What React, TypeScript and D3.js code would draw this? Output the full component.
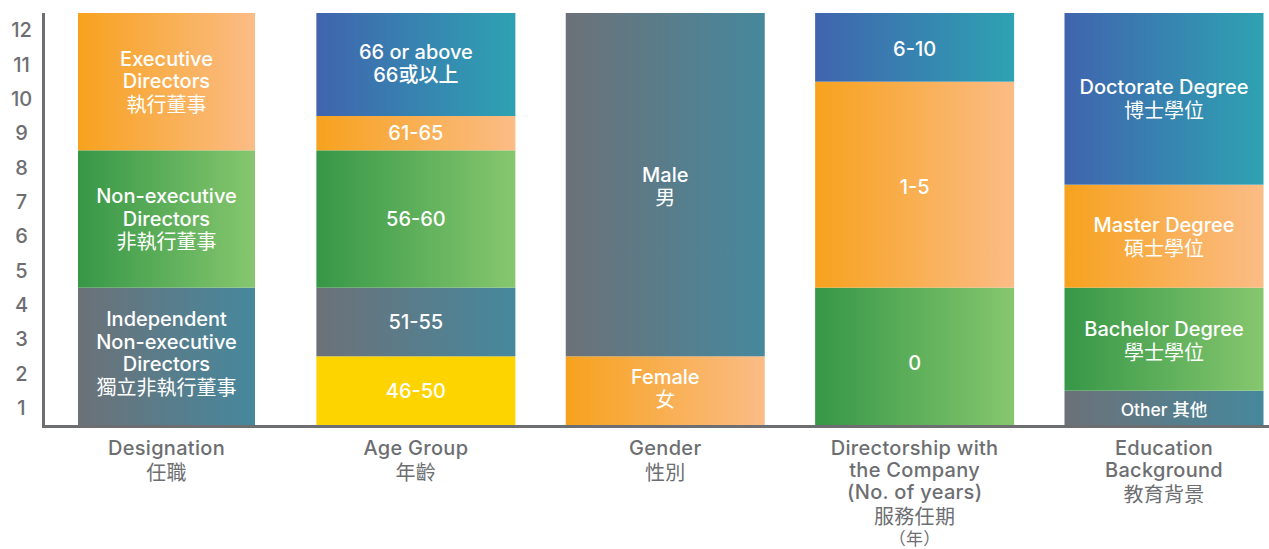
import React from "react";
import * as d3 from "d3";

const categories = ["Designation", "Age Group", "Gender", "Directorship", "Education"];
const categoryLabels: string[][] = [
  ["Designation", "任職"],
  ["Age Group", "年齡"],
  ["Gender", "性別"],
  ["Directorship with", "the Company", "(No. of years)", "服務任期", "（年）"],
  ["Education", "Background", "教育背景"],
];

const designationLabels = [
  ["Independent", "Non-executive", "Directors", "獨立非執行董事"],
  ["Non-executive", "Directors", "非執行董事"],
  ["Executive", "Directors", "執行董事"],
];
const designationValues = [4, 4, 4];

const ageLabels = [["46-50"], ["51-55"], ["56-60"], ["61-65"], ["66 or above", "66或以上"]];
const ageValues = [2, 2, 4, 1, 3];

const genderLabels = [["Female", "女"], ["Male", "男"]];
const genderValues = [2, 10];

const directorshipLabels = [["0"], ["1-5"], ["6-10"]];
const directorshipValues = [4, 6, 2];

const educationLabels = [["Other  其他"], ["Bachelor Degree", "學士學位"], ["Master Degree", "碩士學位"], ["Doctorate Degree", "博士學位"]];
const educationValues = [1, 3, 3, 5];

const yTicks = [1, 2, 3, 4, 5, 6, 7, 8, 9, 10, 11, 12];

// colour keys per segment (styles kept apart from data)
const segmentColors: string[][] = [
  ["grey", "green", "orange"],
  ["yellow", "grey", "green", "orange", "blue"],
  ["orange", "grey"],
  ["green", "orange", "blue"],
  ["grey", "green", "orange", "blue"],
];
const labelShift: number[][] = [
  [-3, 0, 0],
  [0, 0, 0, 0, -1],
  [-2, 2],
  [7, 2, 2],
  [1, 2, 1, 0],
];

const gradients: Record<string, [string, string]> = {
  orange: ["#F7A21E", "#FBBC86"],
  green: ["#369747", "#86C76E"],
  grey: ["#6C7178", "#46889D"],
  blue: ["#4064AE", "#2EA2B2"],
  yellow: ["#FED400", "#FED400"],
};

const labelsAll = [designationLabels, ageLabels, genderLabels, directorshipLabels, educationLabels];
const valuesAll = [designationValues, ageValues, genderValues, directorshipValues, educationValues];

const W = 1269;
const H = 549;
const GRAY = "#6D6E71";
const FONT = "Inter, 'Noto Sans CJK TC', sans-serif";

const isCJK = (s: string) => /[\u3000-\u9fff\uff00-\uffef]/.test(s.charAt(0));

function lineOffsets(lines: string[], latinStep: number, cjkStep: number): number[] {
  const out = [0];
  for (let i = 1; i < lines.length; i++) {
    out.push(out[i - 1] + (isCJK(lines[i]) && !isCJK(lines[i - 1]) ? cjkStep : latinStep));
  }
  return out;
}

export default function App() {
  const x = d3.scalePoint<string>().domain(categories).range([166.5, 1164]);
  const y = d3.scaleLinear().domain([0, 12]).range([425, 13]);
  const barWidth = (i: number) => (i === 0 ? 177 : 199);

  return (
    <svg width={W} height={H} style={{ position: "absolute", left: 0, top: 0 }}>
      <defs>
        {Object.entries(gradients).map(([k, [a, b]]) => (
          <linearGradient key={k} id={`g-${k}`} x1="0" y1="0" x2="1" y2="0">
            <stop offset="0" stopColor={a} />
            <stop offset="1" stopColor={b} />
          </linearGradient>
        ))}
      </defs>
      {categories.map((c, ci) => {
        const vals = valuesAll[ci];
        const cum = d3.cumsum(vals);
        const cx = x(c)!;
        const bw = barWidth(ci);
        const catLines = categoryLabels[ci];
        const catOff = catLines.map((ln, li) => {
          let o = 0;
          for (let k = 1; k <= li; k++) {
            if (isCJK(catLines[k]) && !isCJK(catLines[k - 1])) o += 25;
            else if (isCJK(catLines[k])) o += 21;
            else o += 22;
          }
          return o;
        });
        return (
          <g key={c}>
            {vals.map((v, si) => {
              const y0 = y(cum[si] - v);
              const y1 = y(cum[si]);
              return (
                <rect
                  key={si}
                  x={cx - bw / 2}
                  y={y1}
                  width={bw}
                  height={y0 - y1}
                  fill={`url(#g-${segmentColors[ci][si]})`}
                />
              );
            })}
            {vals.map((v, si) => {
              const lines = labelsAll[ci][si];
              const offs = lineOffsets(lines, 22.5, 23.5);
              const mid = (y(cum[si] - v) + y(cum[si])) / 2 + labelShift[ci][si];
              const startY = mid - offs[offs.length - 1] / 2;
              return (
                <text
                  key={"t" + si}
                  x={cx}
                  textAnchor="middle"
                  fill="#FFFFFF"
                  fontFamily={FONT}
                  fontWeight={500}
                  fontSize={si === 0 && ci === 4 ? 17.5 : 20}
                  dominantBaseline="central"
                >
                  {lines.map((ln, li) => (
                    <tspan key={li} x={cx} y={startY + offs[li]} fontWeight={isCJK(ln) ? 400 : 500}>
                      {ln}
                    </tspan>
                  ))}
                </text>
              );
            })}
            <text
              x={cx}
              textAnchor="middle"
              fill={GRAY}
              fontFamily={FONT}
              fontWeight={500}
              fontSize={20}
              letterSpacing={0.3}
              dominantBaseline="central"
            >
              {catLines.map((ln, li) => {
                const small = li > 0 && isCJK(ln) && isCJK(catLines[li - 1]);
                return (
                  <tspan
                    key={li}
                    x={cx}
                    y={448 + catOff[li] + (small ? 1 : 0)}
                    fontWeight={isCJK(ln) ? 400 : 500}
                    fontSize={small ? 17 : 20}
                  >
                    {ln}
                  </tspan>
                );
              })}
            </text>
          </g>
        );
      })}
      {yTicks.map((t) => (
        <text
          key={t}
          x={21.5}
          y={y(t - 0.5)}
          textAnchor="middle"
          dominantBaseline="central"
          fill={GRAY}
          fontFamily={FONT}
          fontWeight={500}
          fontSize={20}
        >
          {t}
        </text>
      ))}
      <line x1={43.5} x2={43.5} y1={13} y2={428} stroke={GRAY} strokeWidth={3} />
      <line x1={42} x2={W} y1={426.5} y2={426.5} stroke={GRAY} strokeWidth={3} />
    </svg>
  );
}
